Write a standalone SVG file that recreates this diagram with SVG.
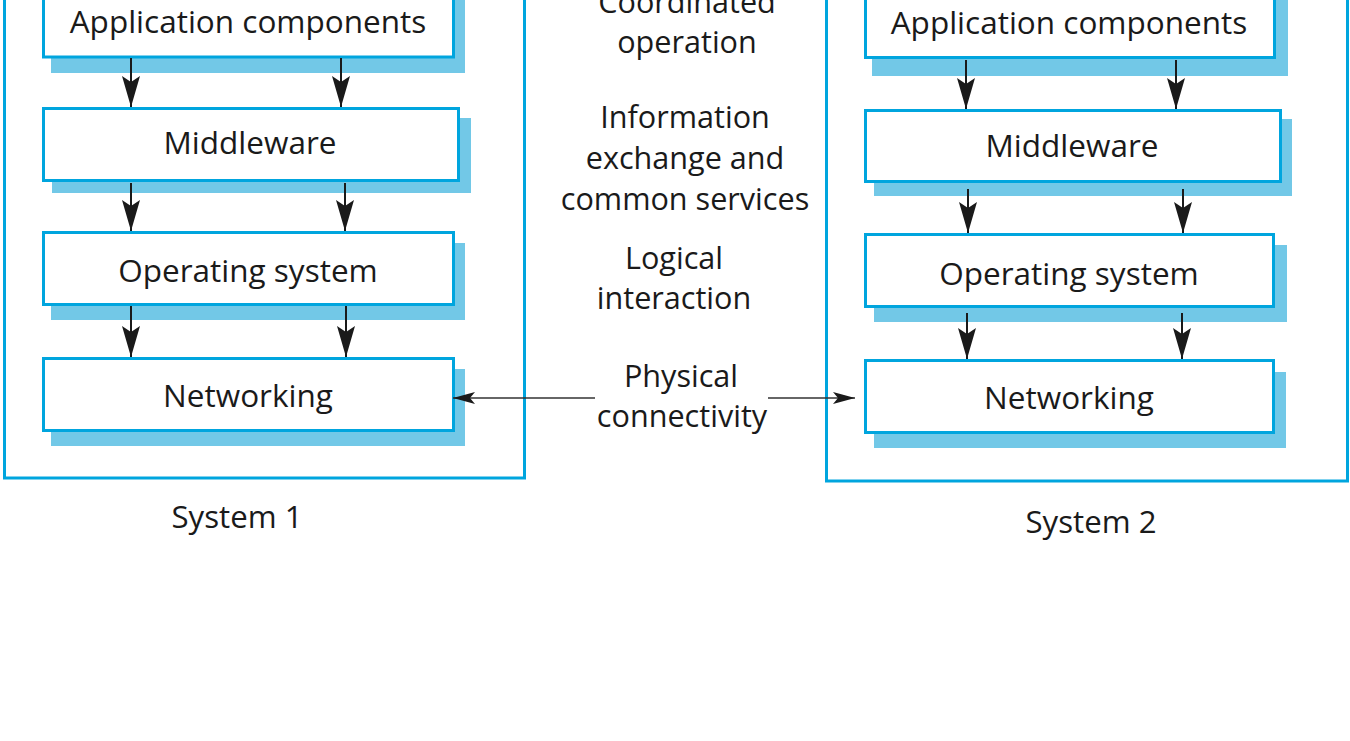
<svg xmlns="http://www.w3.org/2000/svg" width="1350" height="741" viewBox="0 0 1350 741">
<style>
.frame{fill:none;stroke:#00A5DE;stroke-width:3}
.shadow{fill:#72C8E7}
.box{fill:#fff;stroke:#00A5DE;stroke-width:3}
.t{font-family:"Open Sans","Noto Sans",sans-serif;font-size:31.5px;fill:#1a1a1a;text-anchor:middle}
.c{font-size:30.6px}
.s{font-size:31.2px}
.arr{stroke:#1a1a1a;stroke-width:2;fill:none;marker-end:url(#big)}
.link{stroke:#333;stroke-width:1.3;fill:none;marker-end:url(#small)}
</style>
<defs>
<marker id="big" markerUnits="userSpaceOnUse" viewBox="-32 -10 33 20" refX="0" refY="0" markerWidth="33" markerHeight="20" orient="auto">
<path d="M0,0 L-31,-9 L-25,0 L-31,9 Z" fill="#1a1a1a"/>
</marker>
<marker id="small" markerUnits="userSpaceOnUse" viewBox="-23 -7 24 14" refX="0" refY="0" markerWidth="24" markerHeight="14" orient="auto">
<path d="M0,0 L-22,-6 L-17,0 L-22,6 Z" fill="#1a1a1a"/>
</marker>
</defs>
<rect width="1350" height="741" fill="#fff"/>

<g id="system1">
<rect class="frame" x="4.5" y="-10" width="520" height="488"/>
<text class="t s" x="237" y="528">System 1</text>
</g>
<g id="system2">
<rect class="frame" x="826.5" y="-10" width="521" height="491"/>
<text class="t s" x="1091" y="533">System 2</text>
</g>

<g id="s1-app">
<rect class="shadow" x="51" y="-10" width="414" height="83"/>
<rect class="box" x="43.5" y="-20" width="410" height="77"/>
<text class="t" x="248" y="33">Application components</text>
</g>
<g id="s1-mw">
<rect class="shadow" x="52" y="118" width="419" height="75"/>
<rect class="box" x="43.5" y="108.5" width="415" height="72"/>
<text class="t" x="250" y="154">Middleware</text>
</g>
<g id="s1-os">
<rect class="shadow" x="51" y="243" width="414" height="77"/>
<rect class="box" x="43.5" y="232.5" width="410" height="72"/>
<text class="t" x="248" y="282">Operating system</text>
</g>
<g id="s1-net">
<rect class="shadow" x="51" y="369" width="414" height="77"/>
<rect class="box" x="43.5" y="358.5" width="410" height="72"/>
<text class="t" x="248" y="407">Networking</text>
</g>

<g id="s2-app">
<rect class="shadow" x="872" y="-10" width="416" height="86"/>
<rect class="box" x="865.5" y="-20" width="409" height="77.5"/>
<text class="t" x="1069" y="34">Application components</text>
</g>
<g id="s2-mw">
<rect class="shadow" x="874" y="119" width="418" height="77"/>
<rect class="box" x="865.5" y="110.5" width="415" height="71"/>
<text class="t" x="1072" y="157">Middleware</text>
</g>
<g id="s2-os">
<rect class="shadow" x="874" y="245" width="413" height="77"/>
<rect class="box" x="865.5" y="234.5" width="408" height="72"/>
<text class="t" x="1069" y="285">Operating system</text>
</g>
<g id="s2-net">
<rect class="shadow" x="874" y="372" width="412" height="76"/>
<rect class="box" x="865.5" y="360.5" width="408" height="72"/>
<text class="t" x="1069" y="409">Networking</text>
</g>

<g id="labels">
<text class="t c" x="687" y="13">Coordinated</text>
<text class="t c" x="687" y="53">operation</text>
<text class="t c" x="685" y="128">Information</text>
<text class="t c" x="685" y="169">exchange and</text>
<text class="t c" x="685" y="210">common services</text>
<text class="t c" x="674" y="269">Logical</text>
<text class="t c" x="674" y="309">interaction</text>
<text class="t c" x="681" y="387">Physical</text>
<text class="t c" x="682" y="427">connectivity</text>
</g>

<g id="connectors">
<line class="arr" x1="131" y1="58" x2="131" y2="107"/>
<line class="arr" x1="341" y1="58" x2="341" y2="107"/>
<line class="arr" x1="131" y1="183" x2="131" y2="231"/>
<line class="arr" x1="345" y1="183" x2="345" y2="231"/>
<line class="arr" x1="131" y1="306" x2="131" y2="357"/>
<line class="arr" x1="346" y1="306" x2="346" y2="357"/>
<line class="arr" x1="966" y1="60" x2="966" y2="109"/>
<line class="arr" x1="1176" y1="60" x2="1176" y2="109"/>
<line class="arr" x1="968" y1="189" x2="968" y2="233"/>
<line class="arr" x1="1183" y1="189" x2="1183" y2="233"/>
<line class="arr" x1="967" y1="313" x2="967" y2="359"/>
<line class="arr" x1="1182" y1="313" x2="1182" y2="359"/>
<line class="link" x1="595" y1="398" x2="453" y2="398"/>
<line class="link" x1="768" y1="398" x2="855" y2="398"/>
</g>
</svg>
